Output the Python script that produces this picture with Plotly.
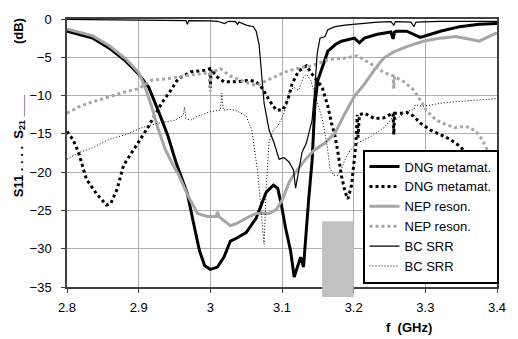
import plotly.graph_objects as go

# ---------------- data ----------------
dng_s21_f = [2.80, 2.836, 2.859, 2.882, 2.90, 2.914, 2.927, 2.941, 2.952, 2.960, 2.968, 2.978, 2.985, 2.992, 3.000,
             3.010, 3.019, 3.028, 3.037, 3.050, 3.064, 3.078, 3.088, 3.094, 3.099, 3.105, 3.112, 3.117, 3.122, 3.126,
             3.130, 3.133, 3.137, 3.142, 3.146, 3.150, 3.156, 3.164, 3.175, 3.183, 3.201, 3.208, 3.215, 3.233, 3.252,
             3.255, 3.257, 3.260, 3.274, 3.293, 3.321, 3.348, 3.375, 3.400]
dng_s21_db = [-1.6, -2.5, -3.8, -5.5, -7.2, -8.9, -11.9, -15.3, -18.7, -20.8, -22.8, -27.3, -30.3, -32.2, -32.7,
              -32.4, -31.1, -29.0, -28.6, -27.9, -26.0, -22.6, -21.7, -22.1, -24.2, -27.3, -30.3, -33.7, -32.4, -31.1,
              -32.4, -28.1, -23.8, -18.5, -11.0, -8.0, -6.3, -4.2, -3.3, -2.9, -2.5, -3.1, -2.5, -2.0, -1.7,
              -2.6, -1.7, -1.6, -1.6, -2.4, -1.6, -1.0, -0.7, -0.6]

dng_s11_f = [2.80, 2.808, 2.816, 2.827, 2.841, 2.855, 2.861, 2.870, 2.879, 2.896, 2.914, 2.932, 2.945, 2.955, 2.973,
             2.992, 2.999, 3.000, 3.001, 3.010, 3.019, 3.037, 3.055, 3.064, 3.073, 3.082, 3.092, 3.101, 3.108, 3.114,
             3.123, 3.134, 3.142, 3.156, 3.164, 3.169, 3.174, 3.178, 3.183, 3.188, 3.192, 3.197, 3.199, 3.203, 3.205,
             3.206, 3.208, 3.215, 3.229, 3.242, 3.255, 3.256, 3.257, 3.266, 3.274, 3.284, 3.293, 3.307, 3.321, 3.334,
             3.348, 3.356, 3.366, 3.380, 3.400]
dng_s11_db = [-14.7, -15.7, -17.4, -20.9, -22.8, -24.3, -24.1, -22.2, -19.1, -16.6, -14.0, -11.0, -9.3, -7.8, -6.9,
              -6.7, -6.5, -9.0, -6.6, -7.6, -8.2, -8.2, -8.0, -8.2, -9.1, -10.6, -11.9, -11.9, -10.6, -8.5,
              -6.8, -6.1, -7.2, -8.9, -11.4, -13.6, -15.3, -17.4, -20.5, -22.6, -23.5, -21.7, -20.0, -16.5, -12.5,
              -15.5, -12.5, -12.3, -13.0, -12.9, -12.3, -15.1, -12.3, -12.3, -12.2, -12.7, -13.6, -14.5, -15.1, -15.7,
              -16.6, -17.4, -17.9, -19.0, -21.0]

nep_s21_f = [2.80, 2.836, 2.859, 2.882, 2.90, 2.909, 2.918, 2.927, 2.937, 2.948, 2.955, 2.968, 2.982, 2.996, 3.008,
             3.010, 3.012, 3.023, 3.028, 3.037, 3.050, 3.064, 3.082, 3.092, 3.101, 3.110, 3.119, 3.133, 3.144, 3.160,
             3.174, 3.188, 3.201, 3.215, 3.229, 3.242, 3.256, 3.274, 3.297, 3.321, 3.342, 3.366, 3.375, 3.384, 3.400]
nep_s21_db = [-1.3, -2.2, -3.5, -5.2, -7.0, -8.9, -11.4, -14.3, -17.0, -19.1, -20.2, -22.9, -25.4, -25.8, -25.8,
              -25.2, -25.8, -26.7, -27.0, -26.7, -26.0, -25.4, -25.4, -24.9, -23.5, -21.3, -20.0, -18.3, -17.2, -16.2,
              -14.9, -12.3, -10.1, -8.5, -6.6, -5.1, -4.3, -3.6, -2.9, -2.5, -2.3, -2.7, -2.9, -2.5, -1.8]

nep_s11_f = [2.80, 2.818, 2.836, 2.859, 2.882, 2.90, 2.918, 2.941, 2.964, 2.982, 2.999, 3.000, 3.001, 3.014, 3.027,
             3.047, 3.064, 3.068, 3.088, 3.105, 3.119, 3.142, 3.164, 3.188, 3.205, 3.225, 3.242, 3.255, 3.256, 3.257,
             3.270, 3.284, 3.293, 3.301, 3.315, 3.329, 3.342, 3.356, 3.370, 3.379, 3.386, 3.393, 3.400]
nep_s11_db = [-12.3, -11.4, -10.8, -10.1, -9.5, -9.1, -8.0, -7.8, -7.4, -7.2, -7.0, -9.5, -7.0, -6.5, -7.4,
              -8.2, -8.7, -8.5, -7.6, -6.9, -6.5, -6.1, -5.3, -5.1, -4.8, -5.9, -7.0, -7.4, -9.1, -7.5,
              -8.2, -9.3, -10.6, -11.9, -13.2, -13.8, -14.2, -14.0, -14.6, -15.7, -17.0, -19.0, -21.0]

bc_s21_f = [2.80, 2.85, 2.90, 2.95, 2.966, 2.968, 2.970, 3.000, 3.010, 3.020, 3.025, 3.035, 3.038, 3.040, 3.050,
            3.060, 3.064, 3.068, 3.071, 3.075, 3.082, 3.089, 3.096, 3.103, 3.110, 3.116, 3.119, 3.123, 3.128, 3.134,
            3.142, 3.146, 3.149, 3.153, 3.160, 3.164, 3.174, 3.188, 3.201, 3.215, 3.233, 3.252, 3.256, 3.258, 3.280,
            3.284, 3.287, 3.320, 3.350, 3.400]
bc_s21_db = [-0.05, -0.1, -0.15, -0.2, -0.2, -0.7, -0.2, -0.25, -0.3, -0.6, -0.3, -0.35, -0.7, -0.4, -0.8,
             -1.0, -1.6, -3.3, -6.8, -11.0, -14.5, -16.2, -18.3, -18.1, -18.7, -19.7, -22.1, -20.0, -17.4, -16.2,
             -13.2, -8.9, -4.6, -2.5, -2.3, -1.4, -1.0, -0.8, -0.7, -0.5, -0.4, -0.35, -0.8, -0.35, -0.4,
             -1.0, -0.4, -0.3, -0.3, -0.3]

bc_s11_f = [2.80, 2.818, 2.836, 2.859, 2.882, 2.904, 2.927, 2.951, 2.962, 2.964, 2.966, 2.973, 2.982, 3.000, 3.014,
            3.016, 3.018, 3.027, 3.037, 3.050, 3.058, 3.062, 3.066, 3.070, 3.075, 3.078, 3.082, 3.088, 3.094, 3.103,
            3.110, 3.116, 3.123, 3.130, 3.134, 3.140, 3.148, 3.156, 3.163, 3.167, 3.172, 3.178, 3.183, 3.188, 3.195,
            3.205, 3.225, 3.242, 3.252, 3.256, 3.258, 3.274, 3.284, 3.286, 3.297, 3.321, 3.342, 3.366, 3.400]
bc_s11_db = [-18.3, -17.4, -16.8, -15.7, -15.1, -14.2, -13.6, -13.2, -12.6, -11.5, -13.0, -13.2, -12.7, -12.1, -11.9,
             -9.7, -11.9, -11.8, -12.0, -12.7, -14.5, -17.4, -20.0, -24.0, -29.4, -22.0, -16.0, -14.5, -14.0, -12.3,
             -9.7, -8.9, -9.3, -7.6, -7.2, -8.0, -10.5, -13.0, -16.5, -19.5, -20.4, -20.4, -19.6, -18.3, -17.2,
             -16.2, -15.3, -14.2, -13.2, -12.3, -13.2, -12.1, -11.8, -11.2, -11.4, -11.0, -10.8, -10.6, -10.4]

# highlighted band (grey block near the bottom)
band_f = [3.156, 3.200]
band_db = [-26.4, -36.3]

x_ticks = [2.8, 2.9, 3.0, 3.1, 3.2, 3.3, 3.4]
x_tick_text = ["2.8", "2.9", "3", "3.1", "3.2", "3.3", "3.4"]
y_ticks = [0, -5, -10, -15, -20, -25, -30, -35]

y_min, y_max = -35, 0

# ---------------- figure ----------------
GREY = "#a6a6a6"
FONT = "Liberation Sans, Arial"
fig = go.Figure()
fig.add_trace(go.Scatter(x=dng_s21_f, y=dng_s21_db, mode="lines", name="DNG metamat.",
                         line=dict(color="black", width=3)))
fig.add_trace(go.Scatter(x=dng_s11_f, y=dng_s11_db, mode="lines", name="DNG metamat.",
                         line=dict(color="black", width=3, dash="3px,3px")))
fig.add_trace(go.Scatter(x=nep_s21_f, y=nep_s21_db, mode="lines", name="NEP reson.",
                         line=dict(color=GREY, width=3)))
fig.add_trace(go.Scatter(x=nep_s11_f, y=nep_s11_db, mode="lines", name="NEP reson.",
                         line=dict(color=GREY, width=3, dash="3px,3px")))
fig.add_trace(go.Scatter(x=bc_s21_f, y=bc_s21_db, mode="lines", name="BC SRR",
                         line=dict(color="black", width=1.2)))
fig.add_trace(go.Scatter(x=bc_s11_f, y=bc_s11_db, mode="lines", name="BC SRR",
                         line=dict(color="black", width=1, dash="1px,2px")))

# grey block: x in data units, y converted to paper fraction (it spills below the axis)
fig.add_shape(type="rect", xref="x", yref="paper",
              x0=band_f[0], x1=band_f[1],
              y0=(band_db[1] - y_min) / (y_max - y_min),
              y1=(band_db[0] - y_min) / (y_max - y_min),
              fillcolor="#c0c0c0", line=dict(width=0), layer="above")

axis_common = dict(showline=True, linecolor="#404040", linewidth=1.5, mirror=True,
                   showgrid=True, gridcolor="#b0b0b0", gridwidth=1,
                   ticks="outside", ticklen=4, tickcolor="#404040", zeroline=False,
                   tickfont=dict(family=FONT, size=13, color="black"))

fig.update_xaxes(range=[2.8, 3.4], tickvals=x_ticks, ticktext=x_tick_text,
                 ticklabelstandoff=4, **axis_common)
fig.update_yaxes(range=[y_min, y_max], tickvals=y_ticks, ticklabelstandoff=7, **axis_common)

NB = "\u00a0"
y_title = "<b>S11 . . . ." + NB * 2 + "S<sub>21</sub> ___" + NB * 14 + "(dB)</b>"
fig.add_annotation(text=y_title, textangle=-90,
                   xref="paper", yref="paper", x=(18 - 67) / 438, y=(287 - 104) / 273,
                   xanchor="center", yanchor="middle", showarrow=False,
                   font=dict(family=FONT, size=13, color="black"))
fig.add_annotation(text="<b>f" + NB * 2 + "(GHz)</b>", xref="paper", yref="paper",
                   x=(415 - 67) / 438, y=-(328 - 287) / 273, showarrow=False,
                   xanchor="center", yanchor="middle",
                   font=dict(family=FONT, size=13, color="black"))

fig.update_layout(
    width=518, height=339,
    margin=dict(l=67, r=13, t=14, b=52),
    paper_bgcolor="white", plot_bgcolor="white",
    showlegend=True,
    legend=dict(x=(368 - 67) / 438, y=(287 - 147) / 273, xanchor="left", yanchor="top",
                bgcolor="white", bordercolor="black", borderwidth=2,
                font=dict(family=FONT, size=13, color="black"),
                tracegroupgap=0, itemwidth=30),
)

fig.write_html("out.html", config={"displayModeBar": False},
               post_script="document.body.style.margin='0';")
